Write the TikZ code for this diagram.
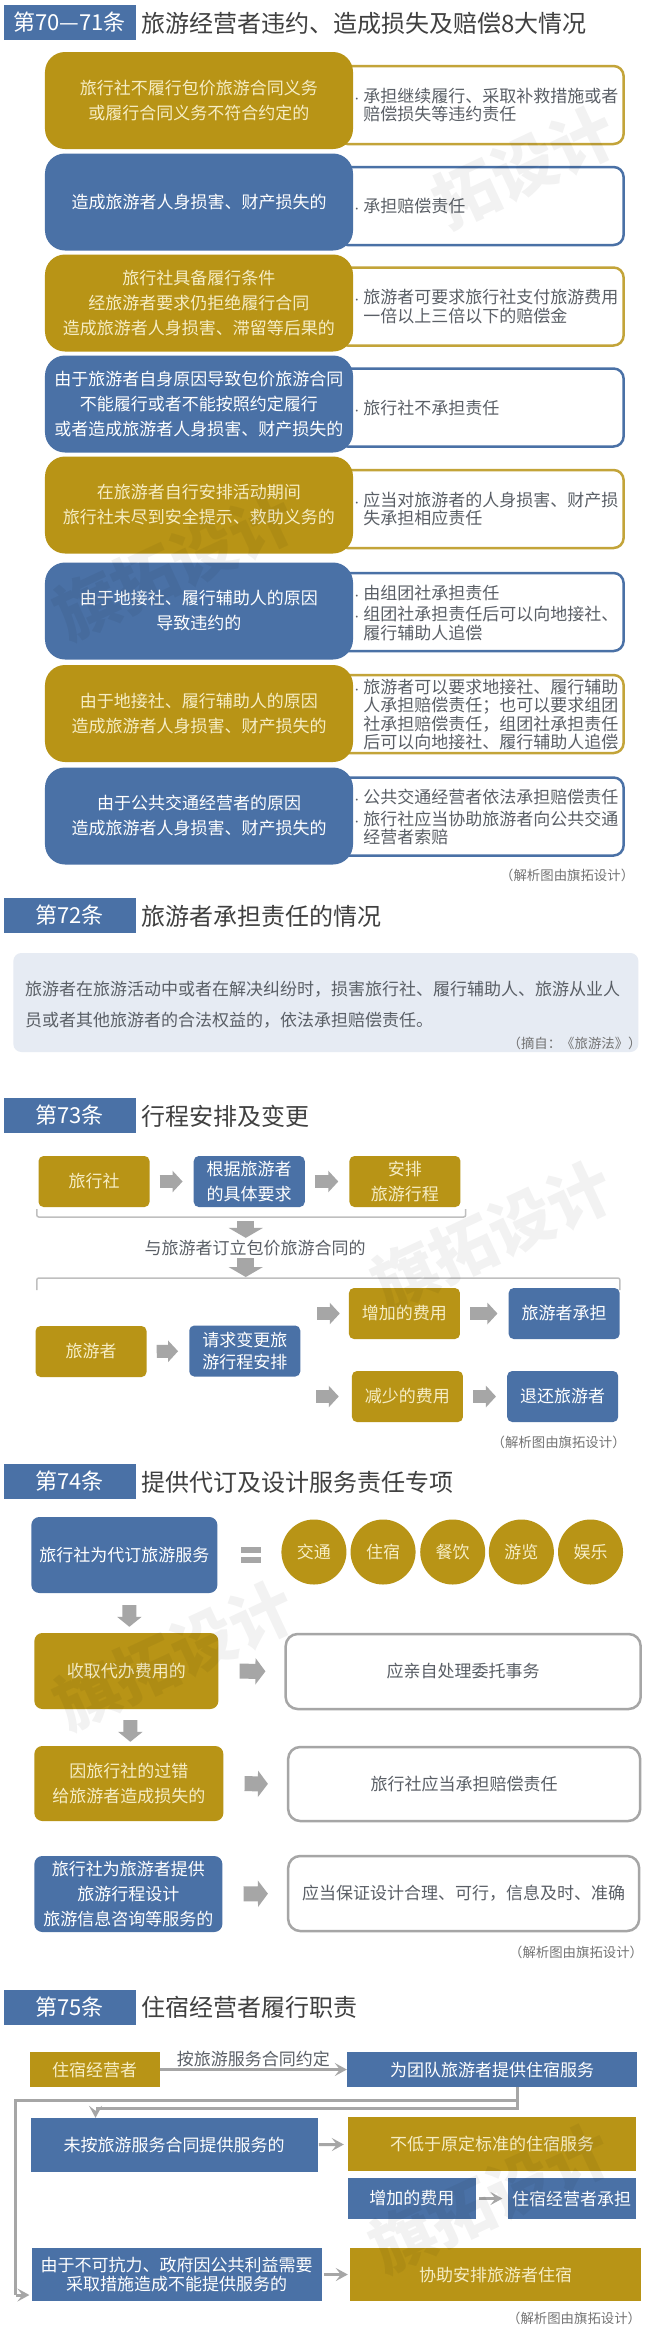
\documentclass[tikz,border=0pt]{standalone}
\usepackage{fontspec}
\setmainfont{Noto Sans CJK SC}
\usetikzlibrary{arrows.meta}
\definecolor{gold}{HTML}{B89416}
\definecolor{steel}{HTML}{4A71A6}
\definecolor{arrowgrey}{HTML}{A6A6A6}
\definecolor{inktext}{HTML}{5A5F66}
\definecolor{palegold}{HTML}{F6EDC4}
\newcommand{\boxfont}{\fontsize{17}{25}\selectfont}
\newcommand{\dotmark}{\llap{\fontsize{9}{9}\selectfont •\hspace{2pt}}}
\tikzstyle{head}=[rectangle,fill=steel,text=white,minimum width=132,minimum height=35,inner sep=0pt,font=\fontsize{22}{24}\selectfont]
\tikzstyle{title}=[anchor=west,inner sep=0pt,text=black!75,font=\fontsize{24}{26}\selectfont]
\tikzstyle{goldbox}=[rectangle,fill=gold,text=palegold,align=center,inner sep=0pt,font=\boxfont]
\tikzstyle{bluebox}=[rectangle,fill=steel,text=white,align=center,inner sep=0pt,font=\boxfont]
\tikzstyle{plainbox}=[rectangle,draw=arrowgrey,line width=2.5pt,fill=white,text=inktext,rounded corners=12pt,inner sep=0pt,font=\boxfont]
\tikzstyle{sidebox}=[rectangle,line width=2.5pt,fill=white,rounded corners=10pt,minimum width=286,minimum height=78,inner sep=0pt]
\tikzstyle{sidetext}=[anchor=west,align=left,inner sep=0pt,text=inktext,font=\fontsize{17}{18.3}\selectfont]
\tikzstyle{plaintext}=[inner sep=0pt,text=inktext,font=\boxfont]
\tikzstyle{note}=[inner sep=0pt,text=black!55,font=\fontsize{13.4}{15}\selectfont]
\tikzstyle{stamp}=[inner sep=0pt,rotate=25,text=black,text opacity=.05,font=\fontsize{64}{66}\selectfont\bfseries]
\tikzset{bigarrow/.style 2 args={color=arrowgrey,line width=#1,-{Triangle[length=10pt,width=#2]}}}
\tikzstyle{thin}=[color=arrowgrey,line width=3pt,-{Stealth[length=12pt,width=13pt,inset=5pt]}]
\begin{document}
\begin{tikzpicture}
  [x=.995pt,y=-1pt]
\useasboundingbox (0,0) rectangle (663.3,2345);
\fill[white] (0,0) rectangle (663.3,2345);
% articles 70-71
  \node[head] (h1) at (70,22) {第70—71条};
  \node[title] (h1') at (142,23) {旅游经营者违约、造成损失及赔偿8大情况};
  \node[sidebox,draw=gold!85] (n1') at (483,105) {};
  \node[sidebox,draw=steel] (n2') at (483,206) {};
  \node[sidebox,draw=gold!85] (n3') at (483,306.5) {};
  \node[sidebox,draw=steel] (n4') at (483,407.5) {};
  \node[sidebox,draw=gold!85] (n5') at (483,509) {};
  \node[sidebox,draw=steel] (n6') at (483,612) {};
  \node[sidebox,draw=gold!85] (n7') at (483,714) {};
  \node[sidebox,draw=steel] (n8') at (483,816.5) {};
  \node[goldbox,rounded corners=20pt,minimum width=308,minimum height=97] (n1) at (200,100.5) {旅行社不履行包价旅游合同义务\\或履行合同义务不符合约定的};
  \node[bluebox,rounded corners=20pt,minimum width=308,minimum height=97] (n2) at (200,202) {造成旅游者人身损害、财产损失的};
  \node[goldbox,rounded corners=20pt,minimum width=308,minimum height=97] (n3) at (200,303) {旅行社具备履行条件\\经旅游者要求仍拒绝履行合同\\造成旅游者人身损害、滞留等后果的};
  \node[bluebox,rounded corners=20pt,minimum width=308,minimum height=97] (n4) at (200,404) {由于旅游者自身原因导致包价旅游合同\\不能履行或者不能按照约定履行\\或者造成旅游者人身损害、财产损失的};
  \node[goldbox,rounded corners=20pt,minimum width=308,minimum height=97] (n5) at (200,505) {在旅游者自行安排活动期间\\旅行社未尽到安全提示、救助义务的};
  \node[bluebox,rounded corners=20pt,minimum width=308,minimum height=97] (n6) at (200,611) {由于地接社、履行辅助人的原因\\导致违约的};
  \node[goldbox,rounded corners=20pt,minimum width=308,minimum height=97] (n7) at (200,713.5) {由于地接社、履行辅助人的原因\\造成旅游者人身损害、财产损失的};
  \node[bluebox,rounded corners=20pt,minimum width=308,minimum height=97] (n8) at (200,816) {由于公共交通经营者的原因\\造成旅游者人身损害、财产损失的};
  \node[sidetext] (n1'') at (365,105) {\dotmark 承担继续履行、采取补救措施或者\\赔偿损失等违约责任};
  \node[sidetext] (n2'') at (365,206) {\dotmark 承担赔偿责任};
  \node[sidetext] (n3'') at (365,306.5) {\dotmark 旅游者可要求旅行社支付旅游费用\\一倍以上三倍以下的赔偿金};
  \node[sidetext] (n4'') at (365,408) {\dotmark 旅行社不承担责任};
  \node[sidetext] (n5'') at (365,509) {\dotmark 应当对旅游者的人身损害、财产损\\失承担相应责任};
  \node[sidetext] (n6'') at (365,613) {\dotmark 由组团社承担责任\\[3pt]\dotmark 组团社承担责任后可以向地接社、\\履行辅助人追偿};
  \node[sidetext] (n7'') at (365,714.5) {\dotmark 旅游者可以要求地接社、履行辅助\\人承担赔偿责任；也可以要求组团\\社承担赔偿责任，组团社承担责任\\后可以向地接社、履行辅助人追偿};
  \node[sidetext] (n8'') at (365,817) {\dotmark 公共交通经营者依法承担赔偿责任\\[3pt]\dotmark 旅行社应当协助旅游者向公共交通\\经营者索赔};
  \node[note] (c1) at (570,875) {（解析图由旗拓设计）};
% article 72
  \node[head] (h2) at (70,915.5) {第72条};
  \node[title] (h2') at (142,916) {旅游者承担责任的情况};
  \node[rectangle,fill=steel!14,rounded corners=8pt,minimum width=625,minimum height=99] (m1) at (327.5,1002.5) {};
  \node[sidetext,font=\fontsize{17}{31}\selectfont] (m1') at (25,1004.5) {旅游者在旅游活动中或者在解决纠纷时，损害旅行社、履行辅助人、旅游从业人\\员或者其他旅游者的合法权益的，依法承担赔偿责任。};
  \node[note] (c2) at (577.5,1043) {（摘自：《旅游法》）};
% article 73
  \node[head] (h3) at (70,1115.5) {第73条};
  \node[title] (h3') at (142,1116) {行程安排及变更};
  \node[goldbox,rounded corners=5pt,minimum width=111,minimum height=51] (p1) at (94.5,1181.5) {旅行社};
  \node[bluebox,rounded corners=5pt,minimum width=111,minimum height=51] (p2) at (250.5,1181.5) {根据旅游者\\的具体要求};
  \node[goldbox,rounded corners=5pt,minimum width=111,minimum height=51] (p3) at (407,1181.5) {安排\\旅游行程};
  \coordinate (b1) at (247,1217);
  \coordinate (b2) at (247,1278);
  \draw[black!25,line width=1.5pt,rounded corners=2pt] (37,1209) -- (37,1217) -- (468,1217) -- (468,1209);
  \draw[black!25,line width=1.5pt,rounded corners=2pt] (37,1290) -- (37,1278) -- (623,1278) -- (623,1290);
  \node[plaintext] (p0) at (256.5,1248) {与旅游者订立包价旅游合同的};
  \node[goldbox,rounded corners=5pt,minimum width=111,minimum height=51] (p4) at (91.5,1351.5) {旅游者};
  \node[bluebox,rounded corners=5pt,minimum width=111,minimum height=51,font=\fontsize{17}{22}\selectfont] (p5) at (246,1351) {请求变更旅\\游行程安排};
  \node[goldbox,rounded corners=5pt,minimum width=111,minimum height=51] (p6) at (406.5,1313.5) {增加的费用};
  \node[bluebox,rounded corners=5pt,minimum width=111,minimum height=51] (p7) at (567,1313.5) {旅游者承担};
  \node[goldbox,rounded corners=5pt,minimum width=111,minimum height=51] (p8) at (409.5,1396.5) {减少的费用};
  \node[bluebox,rounded corners=5pt,minimum width=111,minimum height=51] (p9) at (565.5,1396.5) {退还旅游者};
\path[bigarrow={13pt}{21pt},shorten <=10pt,shorten >=11pt]
(p1) edge (p2)
(p2) edge (p3)
(p4) edge (p5)
(p6) edge (p7)
(p8) edge (p9)
(p5.east |- p6.west) edge[shorten <=17pt,shorten >=9pt] (p6.west)
(p5.east |- p8.west) edge[shorten <=16pt,shorten >=13pt] (p8.west);
\path[bigarrow={17pt}{34pt}]
(b1) edge[shorten <=4pt,shorten >=2pt] (b1 |- p0.north)
(b1 |- p0.south) edge[shorten <=2pt,shorten >=1pt] (b2);
  \node[note] (c3) at (561.5,1442) {（解析图由旗拓设计）};
% article 74
  \node[head] (h4) at (70,1481.5) {第74条};
  \node[title] (h4') at (142,1482) {提供代订及设计服务责任专项};
  \node[bluebox,rounded corners=8pt,minimum width=186,minimum height=76] (q1) at (125,1555) {旅行社为代订旅游服务};
  \fill[arrowgrey] (242,1547) rectangle (262,1553);
  \fill[arrowgrey] (242,1557) rectangle (262,1563);
  \node[goldbox,circle,minimum size=65] (e1) at (315.5,1552) {交通};
  \node[goldbox,circle,minimum size=65] (e2) at (385,1552) {住宿};
  \node[goldbox,circle,minimum size=65] (e3) at (455,1552) {餐饮};
  \node[goldbox,circle,minimum size=65] (e4) at (524,1552) {游览};
  \node[goldbox,circle,minimum size=65] (e5) at (593.5,1552) {娱乐};
  \node[goldbox,rounded corners=8pt,minimum width=184,minimum height=76] (q2) at (127,1671) {收取代办费用的};
  \node[plainbox,minimum width=355,minimum height=75] (q3) at (465.5,1671.5) {应亲自处理委托事务};
  \node[goldbox,rounded corners=8pt,minimum width=189,minimum height=75] (q4) at (129.5,1783.5) {因旅行社的过错\\给旅游者造成损失的};
  \node[plainbox,minimum width=352,minimum height=74] (q5) at (466.5,1784) {旅行社应当承担赔偿责任};
  \node[bluebox,rounded corners=8pt,minimum width=188,minimum height=76] (q6) at (129,1894) {旅行社为旅游者提供\\旅游行程设计\\旅游信息咨询等服务的};
  \node[plainbox,minimum width=351,minimum height=75] (q7) at (466,1893.5) {应当保证设计合理、可行，信息及时、准确};
\path[bigarrow={14pt}{24pt}]
([xshift=5pt]q1.south) edge[shorten <=12pt,shorten >=6pt] ([xshift=3pt]q2.north)
([xshift=4pt]q2.south) edge[shorten <=11pt,shorten >=4pt] ([xshift=1.5pt]q4.north);
\path[bigarrow={15pt}{26pt},shorten <=21pt,shorten >=19pt]
(q2.east) edge (q3.west)
(q4.east) edge (q5.west)
(q6.east) edge (q7.west);
  \node[note] (c4) at (579,1952) {（解析图由旗拓设计）};
% article 75
  \node[head] (h5) at (70,2007) {第75条};
  \node[title] (h5') at (142,2007) {住宿经营者履行职责};
  \node[goldbox,minimum width=130,minimum height=35] (s1) at (95,2069.5) {住宿经营者};
  \node[bluebox,minimum width=290,minimum height=35] (s2) at (494.5,2069.5) {为团队旅游者提供住宿服务};
  \node[bluebox,minimum width=287,minimum height=54] (s3) at (175,2145) {未按旅游服务合同提供服务的};
  \node[goldbox,minimum width=288,minimum height=54] (s4) at (494.5,2144) {不低于原定标准的住宿服务};
  \node[bluebox,minimum width=128,minimum height=41] (s5) at (414,2198.5) {增加的费用};
  \node[bluebox,minimum width=128,minimum height=41] (s6) at (574.5,2198.5) {住宿经营者承担};
  \node[bluebox,minimum width=290,minimum height=53,font=\fontsize{17}{18.5}\selectfont] (s7) at (177.5,2274.5) {由于不可抗力、政府因公共利益需要\\采取措施造成不能提供服务的};
  \node[goldbox,minimum width=291,minimum height=53] (s8) at (498,2274.5) {协助安排旅游者住宿};
  \coordinate (j1) at (520,2100);
  \coordinate (j2) at (520,2108);
  \coordinate (j3) at (96,2108);
  \coordinate (j4) at (16,2100);
  \coordinate (j5) at (16,2295);
\path[thin]
(s1) edge node[above,inner sep=1pt,text=inktext,font=\boxfont] (l1) {按旅游服务合同约定} (s2)
(s3) edge[shorten <=1pt,shorten >=4pt] (s4)
(s5) edge[shorten <=3pt,shorten >=5pt] (s6)
(s7) edge[shorten <=2pt,shorten >=2pt] (s8);
\draw[color=arrowgrey,line width=3pt] (s2.south -| j1) -- (j2) -- (j3);
\draw[thin] ([yshift=-4pt]j3) -- (j3 |- s3.north);
\draw[color=arrowgrey,line width=3pt] (j2) -- (j1) -- (j4) -- (j5);
\draw[thin,shorten >=2pt] (j5) -- (s7.west |- j5);
  \node[note] (c5) at (577,2318) {（解析图由旗拓设计）};
% faint marks
  \node[stamp] (w1) at (527,167) {拓设计};
  \node[stamp] (w2) at (175,565) {旗拓设计};
  \node[stamp] (w3) at (495,1235) {旗拓设计};
  \node[stamp] (w4) at (175,1655) {旗拓设计};
  \node[stamp] (w5) at (493,2198) {旗拓设计};
\end{tikzpicture}
\end{document}
